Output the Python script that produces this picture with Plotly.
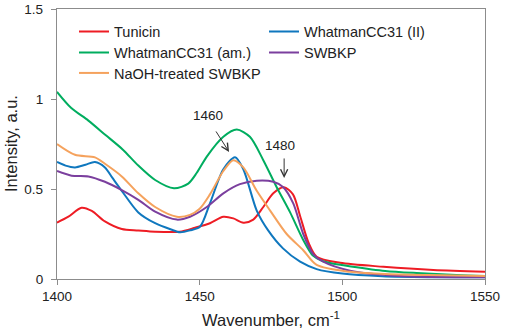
import plotly.graph_objects as go

# ---- data ----
tunicin_x = [1400, 1404, 1408.6, 1412.2, 1416.8, 1422.7, 1428.5, 1434.4, 1443, 1448.4, 1453.6, 1458.3,
             1461.8, 1465.3, 1468.8, 1472.3, 1475.8, 1479.5, 1482.7, 1485.2, 1488.2, 1491, 1499.2,
             1514.4, 1531.9, 1550]
tunicin_y = [0.313, 0.346, 0.396, 0.378, 0.32, 0.278, 0.27, 0.263, 0.263, 0.285, 0.31, 0.346,
             0.337, 0.313, 0.33, 0.40, 0.476, 0.51, 0.47, 0.35, 0.20, 0.124, 0.09,
             0.068, 0.05, 0.04]

wii_x = [1400, 1403, 1406.3, 1410, 1413.3, 1416.8, 1419.5, 1422.7, 1428.5, 1434.4, 1440, 1443.1,
         1446.6, 1450.1, 1453.6, 1458.3, 1462.4, 1465.3, 1470, 1474, 1479.2, 1485.2, 1491, 1500,
         1514, 1530, 1550]
wii_y = [0.65, 0.63, 0.62, 0.635, 0.65, 0.62, 0.56, 0.49, 0.37, 0.31, 0.275, 0.26,
         0.27, 0.29, 0.42, 0.61, 0.676, 0.61, 0.38, 0.27, 0.17, 0.096, 0.055, 0.03,
         0.015, 0.01, 0.01]

wam_x = [1400, 1405, 1411, 1417, 1423, 1428.5, 1434.4, 1441, 1446, 1449, 1452.5, 1458.3, 1463,
         1467.6, 1472.3, 1477, 1481.7, 1486.2, 1489.7, 1493, 1497, 1503, 1515, 1526, 1540, 1550]
wam_y = [1.04, 0.95, 0.88, 0.80, 0.72, 0.63, 0.55, 0.504, 0.53, 0.59, 0.68, 0.79, 0.83,
         0.79, 0.66, 0.51, 0.37, 0.22, 0.13, 0.10, 0.085, 0.07, 0.045, 0.033, 0.022, 0.017]

swbkp_x = [1400, 1405.1, 1411, 1416.8, 1422.7, 1428.5, 1434.4, 1442, 1446.6, 1452.5, 1458.3,
           1464.1, 1470, 1475.8, 1479.3, 1482.8, 1486.3, 1489.7, 1493.3, 1502.7, 1520, 1550]
swbkp_y = [0.60, 0.574, 0.57, 0.54, 0.494, 0.44, 0.374, 0.33, 0.346, 0.40, 0.476,
           0.527, 0.546, 0.54, 0.51, 0.42, 0.25, 0.14, 0.096, 0.046, 0.017, 0.01]

naoh_x = [1400, 1406.3, 1413.3, 1416.8, 1422.7, 1428.5, 1434.4, 1442, 1446.6, 1450, 1453.6,
          1458.3, 1461.8, 1465.3, 1470, 1474.7, 1480.5, 1486.3, 1491, 1502.7, 1515, 1530, 1550]
naoh_y = [0.75, 0.69, 0.676, 0.64, 0.57, 0.476, 0.40, 0.346, 0.356, 0.39, 0.47,
          0.60, 0.66, 0.62, 0.49, 0.38, 0.25, 0.16, 0.078, 0.04, 0.028, 0.022, 0.017]

x_ticks = [1400, 1450, 1500, 1550]
y_ticks = [0, 0.5, 1, 1.5]

FONT = "Liberation Sans, Arial, sans-serif"
AXC = "#8c8c8c"
TXT = "#222"

# plot-area geometry (pixels)
L, R, T, B = 57, 485, 9, 279
PW, PH = R - L, B - T

def px_x(p):
    return (p - L) / PW

def px_y(p):
    return (B - p) / PH

series = [
    ("Tunicin", tunicin_x, tunicin_y, "#ee1c24", "legend", 74, 31.5),
    ("WhatmanCC31 (II)", wii_x, wii_y, "#0f77be", "legend2", 264, 31.5),
    ("WhatmanCC31 (am.)", wam_x, wam_y, "#00ad5f", "legend3", 74, 52.5),
    ("SWBKP", swbkp_x, swbkp_y, "#7b3f9e", "legend4", 264, 52.5),
    ("NaOH-treated SWBKP", naoh_x, naoh_y, "#f5a25d", "legend5", 74, 73),
]

fig = go.Figure()
legends = {}
for name, xs, ys, col, lg, lx, ly in series:
    fig.add_trace(go.Scatter(x=xs, y=ys, name=name, mode="lines", showlegend=True,
                             line=dict(color=col, width=2, shape="spline", smoothing=0.8),
                             legend=lg))
    legends[lg] = dict(x=px_x(lx), y=px_y(ly), xanchor="left", yanchor="middle",
                       bgcolor="rgba(0,0,0,0)", itemwidth=30,
                       font=dict(family=FONT, size=14.5, color=TXT))

fig.update_layout(
    width=505, height=331, showlegend=True,
    margin=dict(l=L, r=505 - R, t=T, b=331 - B, autoexpand=False),
    paper_bgcolor="white", plot_bgcolor="white",
    font=dict(family=FONT, color=TXT),
    xaxis=dict(range=[1400, 1550], tickvals=x_ticks, showgrid=False, zeroline=False,
               showline=True, linecolor=AXC, linewidth=1.3, mirror=True,
               ticks="outside", ticklen=5, tickcolor=AXC, automargin=False,
               tickfont=dict(family=FONT, size=13.5, color=TXT)),
    yaxis=dict(range=[0, 1.5], tickvals=y_ticks, showgrid=False, zeroline=False,
               showline=True, linecolor=AXC, linewidth=1.3, mirror=True,
               ticks="outside", ticklen=5, tickcolor=AXC, automargin=False,
               ticklabelstandoff=5,
               tickfont=dict(family=FONT, size=13.5, color=TXT)),
    **legends,
)

# axis titles
fig.add_annotation(x=0.5, y=px_y(319), xref="paper", yref="paper",
                   text="Wavenumber, cm<sup>-1</sup>", yanchor="middle",
                   showarrow=False, font=dict(family=FONT, size=16.5, color=TXT))
fig.add_annotation(x=px_x(11), y=0.5, xref="paper", yref="paper", text="Intensity, a.u.",
                   xanchor="center", yanchor="middle",
                   textangle=-90, showarrow=False, font=dict(family=FONT, size=16.5, color=TXT))

# peak annotations
fig.add_annotation(x=1452.9, y=0.906, text="1460", showarrow=False,
                   font=dict(family=FONT, size=13.5, color=TXT))
fig.add_annotation(x=1460.3, y=0.706, ax=1455.4, ay=0.828, axref="x", ayref="y",
                   text="", showarrow=True, arrowhead=5, arrowsize=1.4, arrowwidth=1,
                   arrowcolor="#333")
fig.add_annotation(x=1478.2, y=0.744, text="1480", showarrow=False,
                   font=dict(family=FONT, size=13.5, color=TXT))
fig.add_annotation(x=1479.6, y=0.561, ax=1479.6, ay=0.678, axref="x", ayref="y",
                   text="", showarrow=True, arrowhead=5, arrowsize=1.4, arrowwidth=1,
                   arrowcolor="#333")

fig.write_html("out.html", config={"displayModeBar": False},
               post_script="document.body.style.margin='0';document.body.style.padding='0';"
                           "document.documentElement.style.overflow='hidden';")
